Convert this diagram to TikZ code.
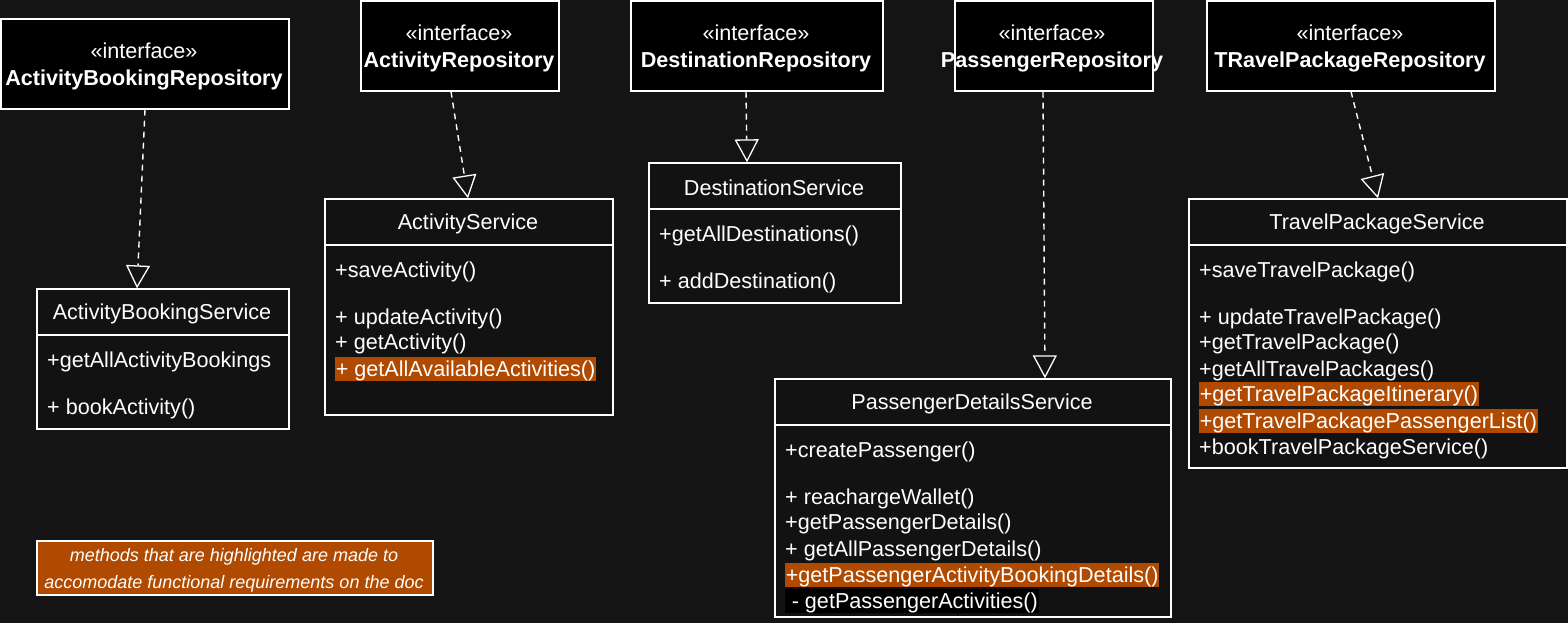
\documentclass[tikz,border=0pt]{standalone}
\usepackage{fontspec}
\setmainfont{Liberation Sans}
\usetikzlibrary{arrows.meta}
\definecolor{bgc}{RGB}{20,20,20}
\definecolor{boxc}{RGB}{18,18,18}
\definecolor{hl}{RGB}{176,74,0}
\tikzset{
  iface/.style={draw=white, fill=black, line width=1.3pt, text=white, align=center,
    font=\fontsize{21.6}{27}\selectfont, inner sep=0pt},
  svc/.style={draw=white, fill=boxc, line width=1.3pt, inner sep=0pt},
  ttl/.style={text=white, font=\fontsize{21.6}{26}\selectfont, inner sep=0pt},
  mth/.style={text=white, font=\fontsize{21.6}{26}\selectfont, anchor=base west, inner sep=0pt},
  hlm/.style={mth, fill=hl, inner xsep=0.6pt, text height=19.5pt, text depth=5pt},
  blm/.style={mth, fill=black, inner xsep=0.6pt, text height=19.5pt, text depth=5pt},
  divline/.style={draw=white, line width=1.3pt},
  real/.style={draw=white, line width=1.4pt, dash pattern=on 6pt off 5pt,
    -{Triangle[length=23pt,width=24pt,fill=bgc,line width=1.3pt]}},
  note/.style={draw=white, fill=hl, line width=1.3pt, text=white, align=center,
    font=\fontsize{18}{27}\selectfont\itshape, inner sep=0pt}
}
\begin{document}
\begin{tikzpicture}[x=1pt,y=-1pt]
\fill[bgc] (0,0) rectangle (1568,623);
\useasboundingbox (0,0) rectangle (1568,623);

% interfaces
\node[iface, minimum width=288pt, minimum height=90pt] (abr) at (145,64) {};
\node[text=white, align=center, font=\fontsize{21.6}{27}\selectfont, inner sep=0pt] (abrt) at (144,66) {«interface»\\\textbf{ActivityBookingRepository}};
\node[iface, minimum width=198pt, minimum height=90pt] (ar) at (460,46) {};
\node[text=white, align=center, font=\fontsize{21.6}{27}\selectfont, inner sep=0pt] (art) at (459,48) {«interface»\\\textbf{ActivityRepository}};
\node[iface, minimum width=252pt, minimum height=90pt] (dr) at (757,46) {};
\node[text=white, align=center, font=\fontsize{21.6}{27}\selectfont, inner sep=0pt] (drt) at (756,48) {«interface»\\\textbf{DestinationRepository}};
\node[iface, minimum width=198pt, minimum height=90pt] (pr) at (1054,46) {};
\node[text=white, align=center, font=\fontsize{21.6}{27}\selectfont, inner sep=0pt] (prt) at (1052,48) {«interface»\\\textbf{PassengerRepository}};
\node[iface, minimum width=288pt, minimum height=90pt] (tpr) at (1351,46) {};
\node[text=white, align=center, font=\fontsize{21.6}{27}\selectfont, inner sep=0pt] (tprt) at (1350,48) {«interface»\\\textbf{TRavelPackageRepository}};

% ActivityBookingService
\node[svc, minimum width=252pt, minimum height=140pt] (abs) at (163,359) {};
\draw[divline] (abs.west |- 0,335) -- (abs.east |- 0,335);
\node[ttl] (abst) at (162,314) {ActivityBookingService};
\node[mth] (abs1) at (47,367) {+getAllActivityBookings};
\node[mth] (abs2) at (47,414) {+ bookActivity()};

% ActivityService
\node[svc, minimum width=288pt, minimum height=216pt] (as) at (469,307) {};
\draw[divline] (as.west |- 0,245) -- (as.east |- 0,245);
\node[ttl] (ast) at (468,224) {ActivityService};
\node[mth] (as1) at (335,277) {+saveActivity()};
\node[mth] (as2) at (335,324) {+ updateActivity()};
\node[mth] (as3) at (335,349) {+ getActivity()};
\node[hlm] (as4) at (335,376) {+ getAllAvailableActivities()};

% DestinationService
\node[svc, minimum width=252pt, minimum height=140pt] (ds) at (775,233) {};
\draw[divline] (ds.west |- 0,209) -- (ds.east |- 0,209);
\node[ttl] (dst) at (774,188) {DestinationService};
\node[mth] (ds1) at (659,241) {+getAllDestinations()};
\node[mth] (ds2) at (659,288) {+ addDestination()};

% PassengerDetailsService
\node[svc, minimum width=396pt, minimum height=238pt] (pds) at (973,498) {};
\draw[divline] (pds.west |- 0,425) -- (pds.east |- 0,425);
\node[ttl] (pdst) at (972,404) {PassengerDetailsService};
\node[mth] (pds1) at (785,457) {+createPassenger()};
\node[mth] (pds2) at (785,504) {+ reachargeWallet()};
\node[mth] (pds3) at (785,529) {+getPassengerDetails()};
\node[mth] (pds4) at (785,556) {+ getAllPassengerDetails()};
\node[hlm] (pds5) at (785,582) {+getPassengerActivityBookingDetails()};
\node[blm] (pds6) at (785,608) {\ - getPassengerActivities()};

% TravelPackageService
\node[svc, minimum width=378pt, minimum height=269pt] (tps) at (1378,333.5) {};
\draw[divline] (tps.west |- 0,245) -- (tps.east |- 0,245);
\node[ttl] (tpst) at (1377,224) {TravelPackageService};
\node[mth] (tps1) at (1199,277) {+saveTravelPackage()};
\node[mth] (tps2) at (1199,324) {+ updateTravelPackage()};
\node[mth] (tps3) at (1199,349) {+getTravelPackage()};
\node[mth] (tps4) at (1199,376) {+getAllTravelPackages()};
\node[hlm] (tps5) at (1199,401) {+getTravelPackageItinerary()};
\node[hlm] (tps6) at (1199,428) {+getTravelPackagePassengerList()};
\node[mth] (tps7) at (1199,454) {+bookTravelPackageService()};

% note
\node[note, minimum width=396pt, minimum height=54pt] (nt) at (235,568) {};
\node[text=white, align=center, font=\fontsize{18}{27}\selectfont\itshape, inner sep=0pt] (ntt) at (234,570) {methods that are highlighted are made to\\accomodate functional requirements on the doc};

% realizations
\draw[real] (abr.south) -- ([xshift=-26pt]abs.north);
\draw[real] ([xshift=-9pt]ar.south) -- ([xshift=-1pt]as.north);
\draw[real] ([xshift=-11pt]dr.south) -- ([xshift=-28pt]ds.north);
\draw[real] ([xshift=-11pt]pr.south) -- ([xshift=72pt]pds.north);
\draw[real] (tpr.south) -- (tps.north);
\end{tikzpicture}
\end{document}
